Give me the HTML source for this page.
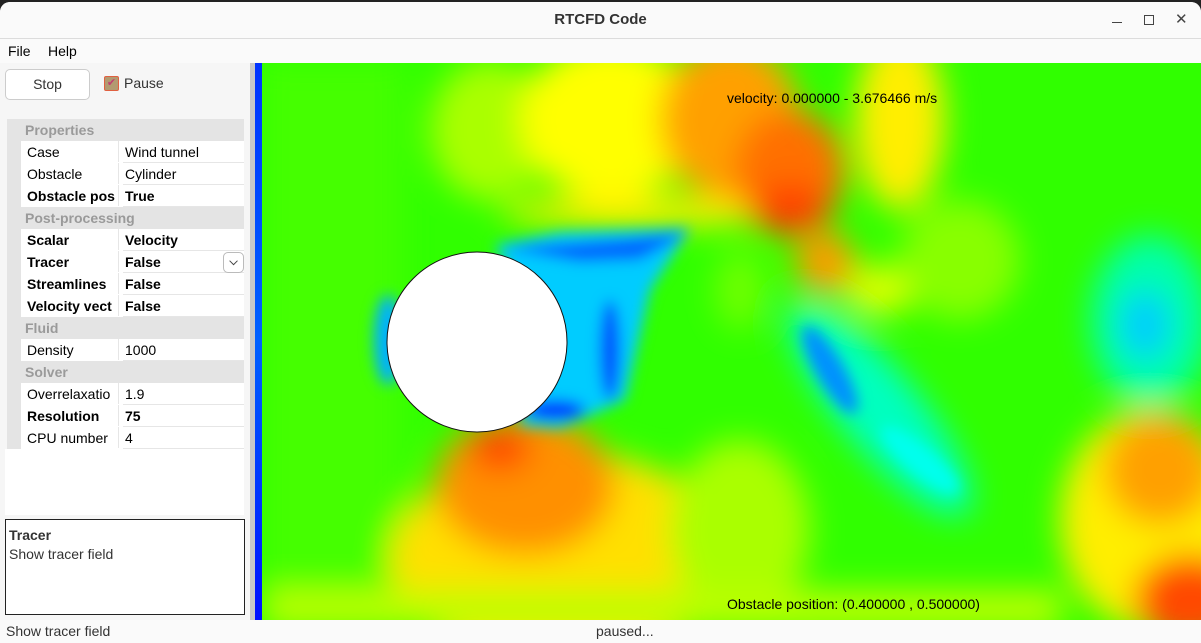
<!DOCTYPE html>
<html><head><meta charset="utf-8">
<style>
body{margin:0;width:1201px;height:643px;overflow:hidden;background:#222;font-family:"Liberation Sans","DejaVu Sans",sans-serif;position:relative}
.abs{position:absolute}
#win{position:absolute;left:0;top:2px;width:1201px;height:641px;background:#f6f6f6;border-radius:10px 10px 0 0;overflow:hidden}
.row{position:absolute;left:7px;width:237px;height:22px;font-size:14px;line-height:22px}
.hdr{background:#e4e4e4;color:#9a9a9a;font-weight:bold}
.hdr span{position:absolute;left:18px}
.it{background:#fff;border-bottom:1px solid #e6e6e6;box-sizing:border-box}
.it .k{position:absolute;left:14px;width:96px;height:22px;padding-left:5px;border-left:1px solid #fff;overflow:hidden;white-space:nowrap;background:#fff}
.it .v{position:absolute;left:111px;padding-left:6px;border-left:1px solid #e6e6e6;height:21px;width:120px}
.it::before{content:"";position:absolute;left:0;top:0;width:14px;height:22px;background:#e4e4e4}
.b{font-weight:bold}
</style></head><body>
<div id="win">
 <div class="abs" style="left:0;top:0;width:1201px;height:36px;background:#fafafa;border-bottom:1px solid #dcdcdc">
  <div class="abs" style="left:0;width:1201px;top:9px;text-align:center;font-size:15px;font-weight:bold;color:#333">RTCFD Code</div>
  <div class="abs" style="left:1112px;top:20px;width:10px;height:1px;background:#444"></div>
  <div class="abs" style="left:1144px;top:13px;width:8px;height:8px;border:1px solid #444"></div>
  <div class="abs" style="left:1175px;top:8px;font-size:15px;color:#444">✕</div>
 </div>
 <div class="abs" style="left:0;top:37px;width:1201px;height:24px;background:#fafafa;font-size:14px;line-height:24px">
  <span class="abs" style="left:8px">File</span>
  <span class="abs" style="left:48px">Help</span>
 </div>
 <div class="abs" style="left:5px;top:67px;width:83px;height:29px;border:1px solid #ccc;border-radius:5px;background:#fff;font-size:14px;line-height:29px;text-align:center;color:#333">Stop</div>
 <div class="abs" style="left:104px;top:74px;width:13px;height:13px;border:1px solid #e06040;border-radius:2px;background:#b39a70;font-size:11px;line-height:13px;text-align:center;color:#c04070">✔</div>
 <div class="abs" style="left:124px;top:73px;font-size:14px;color:#333">Pause</div>

 <div class="abs" style="left:0;top:0">
  <div class="row hdr" style="top:117px"><span>Properties</span></div>
  <div class="row it" style="top:139px"><span class="k">Case</span><span class="v">Wind tunnel</span></div>
  <div class="row it" style="top:161px"><span class="k">Obstacle</span><span class="v">Cylinder</span></div>
  <div class="row it b" style="top:183px"><span class="k">Obstacle pos</span><span class="v">True</span></div>
  <div class="row hdr" style="top:205px"><span>Post-processing</span></div>
  <div class="row it b" style="top:227px"><span class="k">Scalar</span><span class="v">Velocity</span></div>
  <div class="row it b" style="top:249px"><span class="k">Tracer</span><span class="v">False</span>
   <span class="abs" style="left:216px;top:1px;width:19px;height:19px;border:1px solid #bbb;border-radius:5px;background:#fff;font-size:11px;line-height:19px;text-align:center;color:#444">⌵</span></div>
  <div class="row it b" style="top:271px"><span class="k">Streamlines</span><span class="v">False</span></div>
  <div class="row it b" style="top:293px"><span class="k">Velocity vect</span><span class="v">False</span></div>
  <div class="row hdr" style="top:315px"><span>Fluid</span></div>
  <div class="row it" style="top:337px"><span class="k">Density</span><span class="v">1000</span></div>
  <div class="row hdr" style="top:359px"><span>Solver</span></div>
  <div class="row it" style="top:381px"><span class="k">Overrelaxatio</span><span class="v">1.9</span></div>
  <div class="row it b" style="top:403px"><span class="k">Resolution</span><span class="v">75</span></div>
  <div class="row it" style="top:425px"><span class="k">CPU number</span><span class="v">4</span></div>
  <div class="abs" style="left:5px;top:447px;width:239px;height:66px;background:#fff"></div>
 </div>
 <div class="abs" style="left:5px;top:517px;width:238px;height:94px;border:1px solid #222;background:#fff;font-size:14px;color:#333">
  <div class="b" style="position:absolute;left:3px;top:7px">Tracer</div>
  <div style="position:absolute;left:3px;top:26px">Show tracer field</div>
 </div>
 <div class="abs" style="left:250px;top:61px;width:5px;height:557px;background:#c8c8c8"></div>

 <svg class="abs" style="left:255px;top:61px" width="946" height="557" viewBox="255 63 946 557">
  <defs>
   <filter id="bl" x="-20%" y="-20%" width="140%" height="140%"><feGaussianBlur stdDeviation="16"/></filter>
   <filter id="bs" x="-50%" y="-50%" width="200%" height="200%"><feGaussianBlur stdDeviation="7"/></filter>
   <clipPath id="cp"><rect x="262" y="63" width="939" height="557"/></clipPath>
   <linearGradient id="inlet" x1="0" y1="0" x2="0" y2="1"><stop offset="0" stop-color="#0033ff"/><stop offset="0.5" stop-color="#0060ff"/><stop offset="1" stop-color="#0010ff"/></linearGradient>
  </defs>
  <rect x="255" y="63" width="7" height="557" fill="url(#inlet)"/>
  <g clip-path="url(#cp)">
   <rect x="262" y="63" width="939" height="557" fill="#30ff00"/>
   <g filter="url(#bl)">
    <rect x="262" y="63" width="140" height="557" fill="#44ff00"/>
    <ellipse cx="490" cy="130" rx="60" ry="70" fill="#aaff00"/>
    <ellipse cx="610" cy="120" rx="90" ry="80" fill="#ffff00"/>
    <ellipse cx="640" cy="212" rx="140" ry="16" fill="#ffee00"/>
    <ellipse cx="730" cy="120" rx="70" ry="80" fill="#ffa000"/>
    <ellipse cx="790" cy="170" rx="55" ry="60" fill="#ff7000"/>
    <ellipse cx="790" cy="210" rx="40" ry="25" fill="#ff4000"/>
    <ellipse cx="825" cy="262" rx="30" ry="30" fill="#ff9a00"/>
    <ellipse cx="900" cy="120" rx="45" ry="90" fill="#ffee00"/>
    <ellipse cx="880" cy="290" rx="35" ry="25" fill="#ddff00"/>
    <ellipse cx="960" cy="260" rx="60" ry="60" fill="#88ff00"/>
    <ellipse cx="1150" cy="320" rx="60" ry="85" fill="#00ffaa"/>
    <ellipse cx="1145" cy="325" rx="25" ry="35" fill="#00ccff"/>
    <ellipse cx="740" cy="290" rx="25" ry="40" fill="#70ff00"/>
    <ellipse cx="560" cy="560" rx="170" ry="110" fill="#ffe000"/>
    <ellipse cx="525" cy="485" rx="90" ry="70" fill="#ff9000"/>
    <ellipse cx="500" cy="448" rx="30" ry="22" fill="#ff4000"/>
    <ellipse cx="740" cy="530" rx="70" ry="90" fill="#aaff00"/>
    <ellipse cx="1150" cy="520" rx="90" ry="110" fill="#ffee00"/>
    <ellipse cx="1160" cy="470" rx="55" ry="55" fill="#ffa000"/>
    <ellipse cx="1190" cy="600" rx="55" ry="45" fill="#ff4a00"/>
    <rect x="262" y="590" width="800" height="40" fill="#bbff00"/>
    <ellipse cx="880" cy="410" rx="135" ry="40" transform="rotate(50 880 410)" fill="#00ffc0"/>
   </g>
   <g filter="url(#bs)">
    <polygon points="495,245 560,232 690,228 650,290 625,400 560,428 520,425 540,330" fill="#00ccff"/>
    <polygon points="500,248 630,238 690,232 640,260 580,262" fill="#0066ff"/>
    <ellipse cx="610" cy="350" rx="10" ry="50" fill="#0050ff"/>
    <ellipse cx="555" cy="410" rx="30" ry="10" fill="#0030ff"/>
    <ellipse cx="388" cy="340" rx="14" ry="45" fill="#00b0ff"/>
    <ellipse cx="830" cy="370" rx="50" ry="14" transform="rotate(60 830 370)" fill="#0090ff"/>
    <ellipse cx="920" cy="460" rx="50" ry="14" transform="rotate(40 920 460)" fill="#00ffee"/>
   </g>
  </g>
  <circle cx="477" cy="342" r="90" fill="#fff" stroke="#111" stroke-width="1"/>
  <text x="727" y="103" font-size="14" fill="#000" font-family="Liberation Sans, sans-serif">velocity: 0.000000 - 3.676466 m/s</text>
  <text x="727" y="609" font-size="14" fill="#000" font-family="Liberation Sans, sans-serif">Obstacle position: (0.400000 , 0.500000)</text>
 </svg>

 <div class="abs" style="left:0;top:618px;width:1201px;height:23px;background:#fafafa;font-size:14px;line-height:23px;color:#333">
  <span class="abs" style="left:6px">Show tracer field</span>
  <span class="abs" style="left:596px">paused...</span>
 </div>
</div>
</body></html>
